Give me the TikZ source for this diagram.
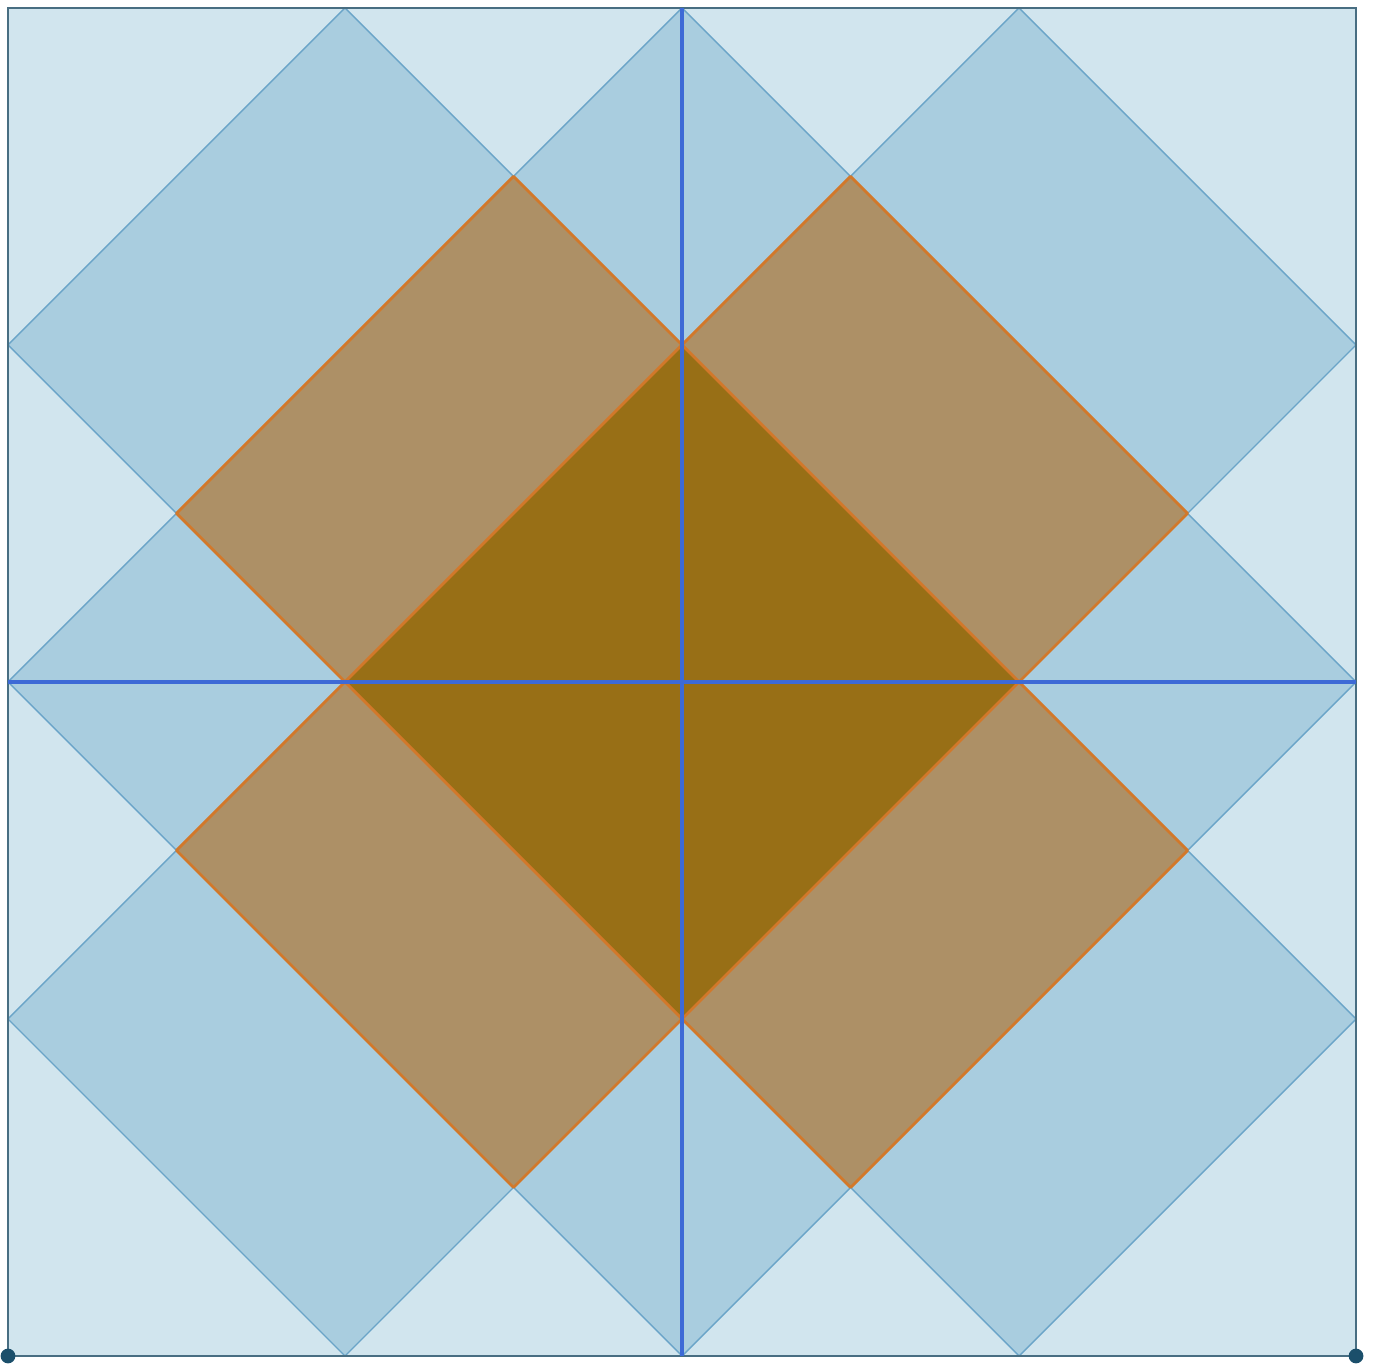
\documentclass[tikz,border=0pt]{standalone}
\usepackage{tikz}
\definecolor{paleblue}  {RGB}{209, 229, 238}
\definecolor{midblue}   {RGB}{169, 205, 223}
\definecolor{edgeblue}  {RGB}{106, 164, 200}
\definecolor{framedark} {RGB}{ 72, 110, 130}
\definecolor{axisblue}  {RGB}{ 61, 106, 214}
\definecolor{tan}       {RGB}{173, 144, 102}
\definecolor{tanedge}   {RGB}{210, 120,  42}
\definecolor{darkgold}  {RGB}{152, 111,  22}
\definecolor{dotclr}    {RGB}{ 27,  79, 107}

\begin{document}
\begin{tikzpicture}[x=3.37cm, y=3.37cm,
    diam/.style={fill=midblue, draw=edgeblue, line width=0.4pt},
    rect/.style={fill=tan, draw=tanedge, line width=0.8pt, line join=round},
    axis/.style={axisblue, line width=1pt}]
  \useasboundingbox (-0.0237,-0.0267) rectangle (4.0623,4.0237);
  % frame
  \coordinate (SW) at (0,0);
  \coordinate (SE) at (4,0);
  \coordinate (NE) at (4,4);
  \coordinate (NW) at (0,4);
  \fill[paleblue] (SW) rectangle (NE);
  % big diamond
  \coordinate (N) at (2,4);
  \coordinate (W) at (0,2);
  \coordinate (S) at (2,0);
  \coordinate (E) at (4,2);
  \draw[diam] (N) -- (W) -- (S) -- (E) -- cycle;
  % quarter diamonds
  \foreach \sx/\sy in {-1/1, 1/1, -1/-1, 1/-1}
    \draw[diam] ({2+\sx},{2+2*\sy}) -- ({2+2*\sx},{2+\sy})
      -- ({2+\sx},2) -- (2,{2+\sy}) -- cycle;
  % centre square
  \coordinate (n) at (2,3);
  \coordinate (w) at (1,2);
  \coordinate (s) at (2,1);
  \coordinate (e) at (3,2);
  \fill[darkgold] (n) -- (w) -- (s) -- (e) -- cycle;
  % overlaps
  \foreach \sx/\sy in {-1/1, 1/1, -1/-1, 1/-1}
    \draw[rect] ({2+\sx},2) -- ({2+1.5*\sx},{2+0.5*\sy})
      -- ({2+0.5*\sx},{2+1.5*\sy}) -- (2,{2+\sy}) -- cycle;
  % frame edges
  \draw[framedark, line width=0.6pt] (SW) -- (SE) -- (NE) -- (NW) -- cycle;
  % axes
  \draw[axis] (W) -- (E);
  \draw[axis] (S) -- (N);
  % corner points
  \fill[dotclr] (SW) circle (2.1pt);
  \fill[dotclr] (SE) circle (2.1pt);
\end{tikzpicture}
\end{document}
